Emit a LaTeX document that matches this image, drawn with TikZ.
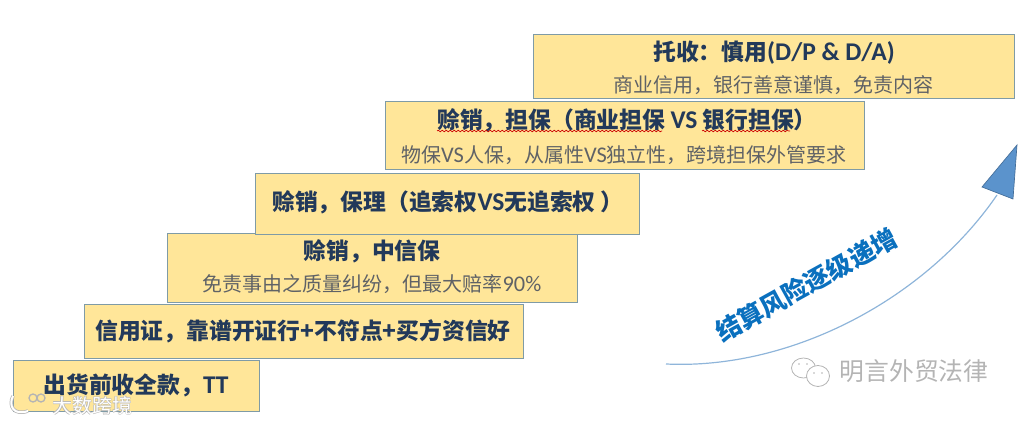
\documentclass[tikz,border=0pt]{standalone}
\usepackage{fontspec}
\setmainfont{Noto Sans CJK SC}
\newfontfamily\latfont[Scale=1.12]{Carlito}
\usetikzlibrary{decorations.pathmorphing}
\definecolor{stepfill}{HTML}{FFE699}
\definecolor{stepline}{HTML}{7F9BA6}
\definecolor{titleink}{HTML}{22395A}
\definecolor{subink}{HTML}{5F6266}
\definecolor{riskblue}{HTML}{0A70BE}
\definecolor{tipblue}{HTML}{5B93CC}
\definecolor{curveblue}{HTML}{8FB5DA}
\definecolor{markgrey}{HTML}{B4B4B4}
\tikzset{
  stepbox/.style={draw=stepline,fill=stepfill,line width=0.7pt,inner sep=0pt,align=center},
  steptitle/.style={text=titleink,font=\fontsize{17.1}{21}\selectfont\bfseries},
  subline/.style={text=subink,font=\fontsize{15}{18}\selectfont},
  squiggle/.style={draw=red!80!black,line width=0.5pt,decorate,decoration={snake,amplitude=0.6pt,segment length=3pt}},
}
\begin{document}
\begin{tikzpicture}[x=0.75pt,y=-0.75pt]
\useasboundingbox (0,0) rectangle (1025,423);
\node[stepbox,minimum width=184.5pt,minimum height=38.25pt] (tt) at (136,385.5) {};
\node[steptitle] (tttitle) at (136,385) {出货前收全款，{\latfont TT}};
\node[stepbox,minimum width=329.25pt,minimum height=40.5pt] (lc) at (303.5,331) {};
\node[steptitle] (lctitle) at (303,331) {信用证，靠谱开证行+不符点+买方资信好};
\node[stepbox,minimum width=307.5pt,minimum height=51.75pt] (sino) at (372,267.5) {};
\node[steptitle] (sinotitle) at (372,251) {赊销，中信保};
\node[subline] (sinosub) at (372,284) {免责事由之质量纠纷，但最大赔率{\latfont 90\%}};
\node[stepbox,minimum width=288pt,minimum height=45.75pt] (factor) at (447,203.5) {};
\node[steptitle] (factortitle) at (448,202) {赊销，保理（追索权{\latfont VS}无追索权 ）};
\node[stepbox,minimum width=359.25pt,minimum height=51pt] (guar) at (624.5,135) {};
\node[steptitle] (guartitle) at (627,120) {赊销，担保（商业担保 {\latfont VS} 银行担保）};
\node[subline] (guarsub) at (624,155) {物保{\latfont VS}人保，从属性{\latfont VS}独立性，跨境担保外管要求};
\node[stepbox,minimum width=360.75pt,minimum height=48pt] (dp) at (773.5,66) {};
\node[steptitle] (dptitle) at (774,53) {托收：慎用{\latfont (D/P \& D/A)}};
\node[subline] (dpsub) at (773,85) {商业信用，银行善意谨慎，免责内容};
% spell check marks
\coordinate (sqa) at (437,131);
\coordinate (sqb) at (662,131);
\coordinate (sqc) at (702,131);
\coordinate (sqd) at (790,131);
\draw[squiggle] (sqa) -- (sqb);
\draw[squiggle] (sqc) -- (sqd);
% risk arrow
\coordinate (curvestart) at (666,364);
\coordinate (curveend) at (997,195);
\coordinate (tipa) at (1017,145);
\coordinate (tipb) at (982,187);
\coordinate (tipc) at (1013,199);
\draw[curveblue,line width=0.9pt] (curvestart) .. controls (790,370) and (925,300) .. (curveend);
\draw[fill=tipblue,draw=tipblue!75!black,line width=0.5pt] (tipa) -- (tipb) -- (tipc) -- cycle;
\node[text=riskblue,rotate=29,font=\fontsize{19}{23}\selectfont\bfseries] (risk) at (806,285) {结算风险逐级递增};
% watermarks
\node[text=markgrey,font=\fontsize{18.6}{22}\selectfont] (mingyan) at (914,371) {明言外贸法律};
\draw[markgrey,line width=0.6pt] (803.5,368) ellipse (12 and 10);
\draw[markgrey,fill=white,line width=0.6pt] (818,376) ellipse (11.5 and 10.5);
\fill[markgrey] (799,364) circle (0.9) (807,364) circle (0.9) (814,373) circle (0.8) (822,373) circle (0.8);
\node[text=markgrey,font=\fontsize{15}{18}\selectfont\bfseries] (dashushade) at (92,406) {大数跨境};
\node[text=white,font=\fontsize{15}{18}\selectfont] (dashu) at (92,406) {大数跨境};
\draw[markgrey,line width=2.6pt] (13,396) .. controls (8,406) and (14,416) .. (28,411);
\draw[white,line width=1.5pt] (13,396) .. controls (8,406) and (14,416) .. (28,411);
\draw[markgrey,line width=1pt] (33,398) circle (4) (41,398) circle (4);
\end{tikzpicture}
\end{document}
